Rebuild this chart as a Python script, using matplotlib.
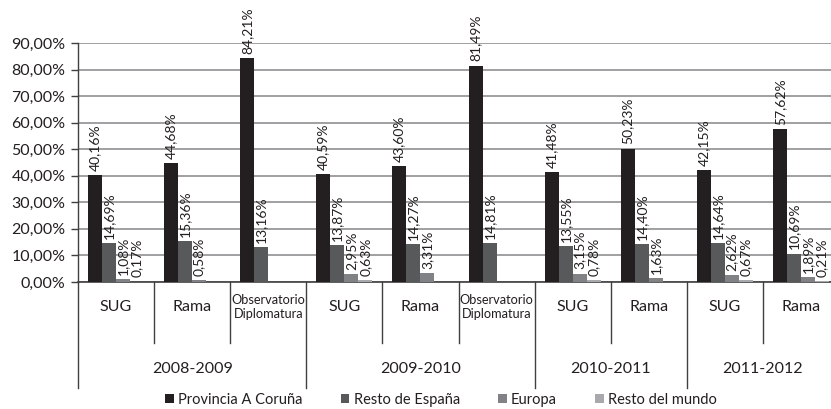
import numpy as np
import matplotlib
matplotlib.use("Agg")
import matplotlib.pyplot as plt
from matplotlib.patches import Patch

plt.rcParams['font.family'] = ['Lato', 'DejaVu Sans']

categories = ["SUG", "Rama", "Observatorio\nDiplomatura",
              "SUG", "Rama", "Observatorio\nDiplomatura",
              "SUG", "Rama", "SUG", "Rama"]
years = ["2008-2009", "2009-2010", "2010-2011", "2011-2012"]
year_sizes = [3, 3, 2, 2]
series_names = ["Provincia A Coruña", "Resto de España", "Europa", "Resto del mundo"]
coruna = [40.16, 44.68, 84.21, 40.59, 43.60, 81.49, 41.48, 50.23, 42.15, 57.62]
resto_espana = [14.69, 15.36, 13.16, 13.87, 14.27, 14.81, 13.55, 14.40, 14.64, 10.69]
europa = [1.08, 0.58, None, 2.95, 3.31, None, 3.15, 1.63, 2.62, 1.89]
resto_mundo = [0.17, None, None, 0.63, None, None, 0.78, None, 0.67, 0.21]
yticks = [0, 10, 20, 30, 40, 50, 60, 70, 80, 90]

colors = ["#231f20", "#58595b", "#808285", "#a7a9ac"]
txt = "#231f20"
W, H = 831, 409
fig = plt.figure(figsize=(W / 100, H / 100), dpi=100)
left, right, bottom, top = 78, 839, 282, 43
ax = fig.add_axes([left / W, 1 - bottom / H, (right - left) / W, (bottom - top) / H])

n = len(categories)
x = np.arange(n)
bw = 14 / 76.1
series = [coruna, resto_espana, europa, resto_mundo]
for i, (vals, c) in enumerate(zip(series, colors)):
    xs = x + (i - 1.5) * bw
    for xi, v in zip(xs, vals):
        if v is None:
            continue
        ax.bar(xi, v, width=bw, color=c, zorder=3)
        lab = f"{v:.2f}%".replace(".", ",")
        ax.annotate(lab, (xi, v), xytext=(0, 3), textcoords="offset points",
                    rotation=90, ha="center", va="bottom", fontsize=10, color=txt,
                    zorder=4)

ax.set_xlim(-0.5, n - 0.5)
ax.set_ylim(0, 90)
ax.set_yticks(yticks)
ax.set_yticklabels([f"{t:.2f}%".replace(".", ",") for t in yticks], fontsize=11.5, color=txt)
ax.yaxis.grid(True, color="#a0a0a2", linewidth=1.4, zorder=0)
ax.set_axisbelow(True)
ax.tick_params(axis="y", length=5, width=1, color="#404040", pad=4)
ax.set_xticks([])
for s in ["top", "right"]:
    ax.spines[s].set_visible(False)
ax.spines["left"].set_color("#404040")
ax.spines["bottom"].set_color("#404040")
ax.spines["left"].set_linewidth(1)
ax.spines["bottom"].set_linewidth(1.2)

tr = ax.get_xaxis_transform()
h_ax = bottom - top
short_end = -(343 - bottom) / h_ax
long_end = -(388 - bottom) / h_ax
cat_y = -(307 - bottom) / h_ax
year_y = -(369 - bottom) / h_ax

# category labels
for xi, c in zip(x, categories):
    fs = 9.2 if "\n" in c else 11.5
    ax.text(xi, cat_y, c, transform=tr, ha="center", va="center", fontsize=fs,
            color=txt, linespacing=1.1, clip_on=False)

# separators
bounds = np.cumsum([0] + year_sizes)
for b in range(n + 1):
    xb = b - 0.5
    end = long_end if b in bounds else short_end
    ax.plot([xb, xb], [0, end], transform=tr, color="#404040", linewidth=1,
            clip_on=False)

for k, yr in enumerate(years):
    mid = (bounds[k] + bounds[k + 1]) / 2 - 0.5
    ax.text(mid, year_y, yr, transform=tr, ha="center", va="center", fontsize=11.5,
            color=txt, clip_on=False)

handles = [Patch(facecolor=c, edgecolor="none") for c in colors]
fig.legend(handles, series_names, loc="center", bbox_to_anchor=(441 / W, 1 - 400 / H),
           ncol=4, frameon=False, fontsize=10.5, handlelength=0.6, handleheight=0.6,
           handletextpad=0.3, columnspacing=2.6, labelcolor=txt)

fig.savefig("out.png", dpi=100)
